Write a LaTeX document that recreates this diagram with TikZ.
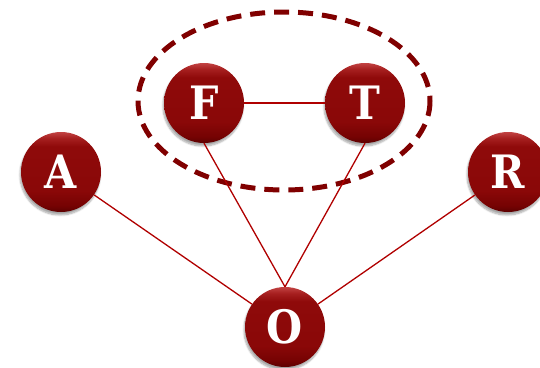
\documentclass[tikz,border=0pt]{standalone}
\usepackage{fontspec}
\newfontfamily\nodefont{DejaVu Serif Condensed}
\usetikzlibrary{shadows.blur}
\definecolor{linkred}{RGB}{176,0,0}
\definecolor{ringred}{RGB}{128,0,0}
\pgfdeclareverticalshading{ballshade}{100bp}{%
  rgb(0bp)=(0.36,0,0);
  rgb(25bp)=(0.36,0,0);
  rgb(29bp)=(0.46,0.01,0.01);
  rgb(38bp)=(0.54,0.03,0.03);
  rgb(66bp)=(0.56,0.04,0.04);
  rgb(71bp)=(0.65,0.12,0.12);
  rgb(75bp)=(0.76,0.26,0.26);
  rgb(100bp)=(0.76,0.26,0.26)}
\tikzset{
  ball/.style={circle, minimum size=80pt, inner sep=0pt, draw=none,
    shading=ballshade,
    blur shadow={shadow xshift=-1pt, shadow yshift=-3pt, shadow blur steps=8, shadow opacity=35},
    text=white, font=\nodefont\bfseries\fontsize{46}{46}\selectfont},
  link/.style={draw=linkred, line width=1.3pt},
  ring/.style={draw=ringred, line width=5pt, dash pattern=on 15pt off 9pt}
}
\begin{document}
\begin{tikzpicture}[x=1pt,y=-1pt]
\useasboundingbox (0,0) rectangle (540,367);
\draw[ring] (284,101) ellipse [x radius=146, y radius=89];
\node[ball] (F) at (204,103) {F};
\node[ball] (T) at (365,103) {T};
\node[ball] (A) at (61,172) {A};
\node[ball] (R) at (508,172) {R};
\node[ball] (O) at (285,327) {O};
\draw[link] (F) -- (T);
\draw[link] (A) -- (O);
\draw[link] (R) -- (O);
\draw[link] (F.south) -- (O.north);
\draw[link] (T.south) -- (O.north);
\end{tikzpicture}
\end{document}
